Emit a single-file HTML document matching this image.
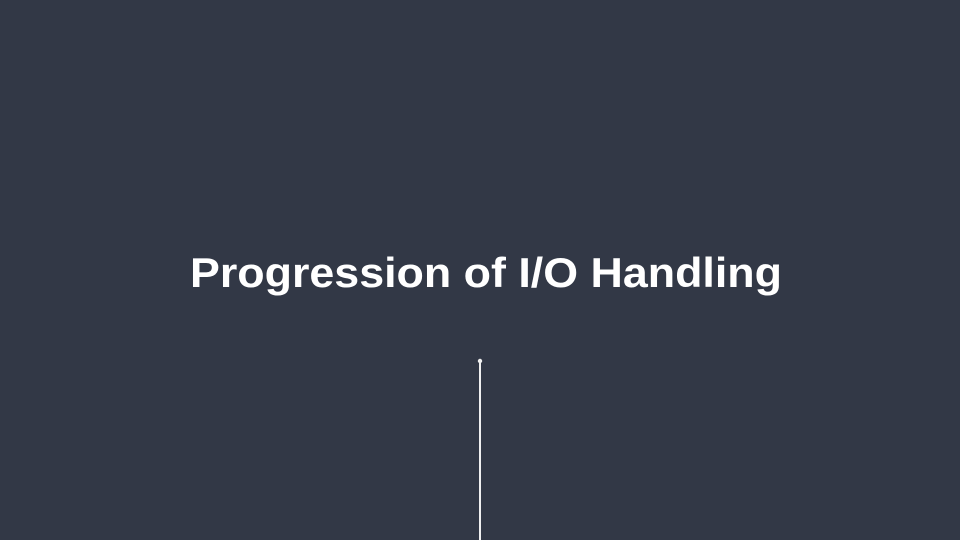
<!DOCTYPE html>
<html><head><meta charset="utf-8"><style>
html,body{margin:0;padding:0;background:#323846;}
svg{display:block}
</style></head><body>
<svg width="960" height="540" viewBox="0 0 960 540">
<rect width="960" height="540" fill="#323846"/>
<text x="486" y="287" text-anchor="middle" font-family="Liberation Sans, sans-serif" font-weight="bold" font-size="42" fill="#ffffff" textLength="592" lengthAdjust="spacingAndGlyphs">Progression of I/O Handling</text>
<line x1="480" y1="361" x2="480" y2="540" stroke="#f0f0f0" stroke-width="2"/>
<circle cx="480" cy="361" r="2.2" fill="#f0f0f0"/>
</svg>
</body></html>
